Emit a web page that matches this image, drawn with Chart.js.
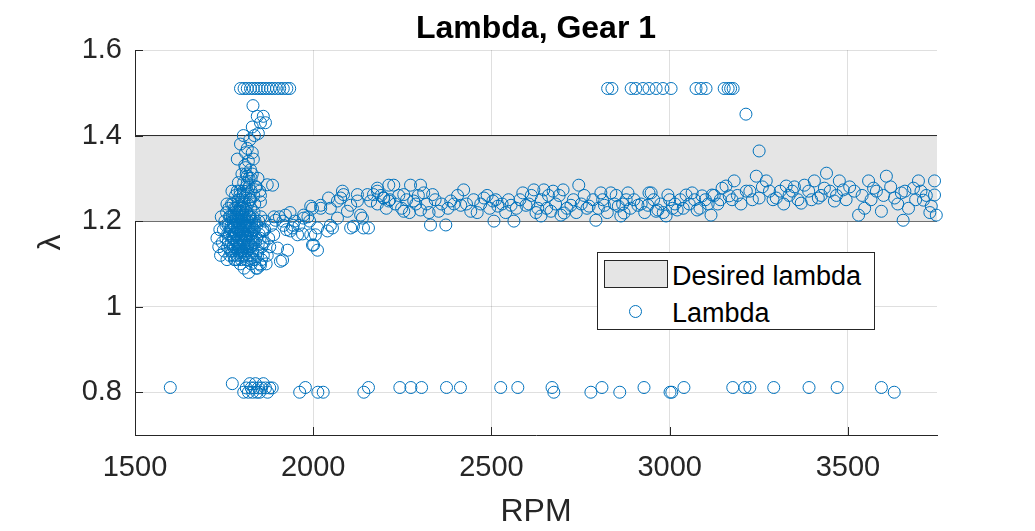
<!DOCTYPE html>
<html>
<head>
<meta charset="utf-8">
<script src="https://cdn.jsdelivr.net/npm/chart.js@4.4.1/dist/chart.umd.min.js"></script>
<style>
  html, body { margin:0; padding:0; background:#fff; }
  #wrap { position:relative; width:1035px; height:531px; }
  #legend { position:absolute; left:597px; top:252px; width:276px; height:76px; border:1px solid #262626; background:#fff;
            font-family:"Liberation Sans", Arial, sans-serif; font-size:27px; color:#000; }
  #legend .patch { position:absolute; left:6px; top:7px; width:64px; height:28px; box-sizing:border-box; background:#e5e5e5; border:1px solid #262626; }
  #legend .mark { position:absolute; left:31px; top:52px; width:13px; height:13px; box-sizing:border-box; border:1px solid #0072BD; border-radius:50%; }
  #legend .txt { position:absolute; left:74px; line-height:27px; white-space:nowrap; }
</style>
</head>
<body>
<div id="wrap">
  <canvas id="c" width="1035" height="531"></canvas>
  <div id="legend">
    <div class="patch"></div><span class="txt" style="top:10px">Desired lambda</span>
    <div class="mark"></div><span class="txt" style="top:47px">Lambda</span>
  </div>
</div>
<script>
// ---- chart text and axes ----
const titleText = 'Lambda, Gear 1';
const xLabel = 'RPM';
const yLabel = 'λ';
const xTicks = [1500, 2000, 2500, 3000, 3500];
const yTicks = [0.8, 1, 1.2, 1.4, 1.6];
const xRange = [1500, 3750];
const yRange = [0.7, 1.6];
const desiredBand = [1.2, 1.4];

// ---- Lambda samples (RPM, lambda) ----
const topRpm = [1796,1806,1815,1824,1832,1840,1848,1856,1864,1872,1880,1888,1897,1906,1916,1926,1934,
                2826,2838,2892,2905,2925,2942,2962,2981,3004,3074,3088,3102,3153,3164,3171,3178];
const topLambda = [1.51,1.51,1.51,1.51,1.51,1.51,1.51,1.51,1.51,1.51,1.51,1.51,1.51,1.51,1.51,1.51,1.51,
                   1.51,1.51,1.51,1.51,1.51,1.51,1.51,1.51,1.51,1.51,1.51,1.51,1.51,1.51,1.51,1.51];

const riseRpm = [1831,1843,1860,1829,1852,1866,1846,1804,1796,1815,1810,1829,1787,1818,1832,1810,1824,1800,1815,1829,
                 1790,1815,1871,1838,1772,1804,1852,1824,1852,1758,1820,1808,1822,1835,1812,1826];
const riseLambda = [1.47,1.445,1.445,1.42,1.43,1.43,1.405,1.40,1.38,1.37,1.36,1.36,1.345,1.34,1.345,1.325,1.32,1.31,1.305,1.31,
                    1.29,1.29,1.285,1.28,1.27,1.27,1.26,1.25,1.245,1.24,1.30,1.33,1.39,1.40,1.28,1.27];

const coreRpm = [1745,1748,1750,1752,1755,1757,1758,1760,1762,1763,1765,1766,1768,1770,1771,1772,1774,1775,1776,1778,
                 1779,1780,1781,1782,1783,1784,1785,1786,1787,1788,1789,1790,1791,1792,1793,1794,1795,1796,1797,1798,
                 1799,1800,1801,1802,1803,1804,1805,1806,1807,1808,1809,1810,1811,1812,1813,1814,1815,1816,1817,1818,
                 1819,1820,1821,1822,1823,1824,1825,1826,1827,1828,1829,1830,1832,1834,1836,1838,1840,1842,1845,1848,
                 1850,1853,1856,1860,1864,1868,1770,1775,1780,1785,1790,1795,1800,1805,1810,1815,1778,1788,1798,1808,
                 1818,1760,1765,1755,1793,1803,1730,1735,1738,1742,1740,1795,1805,1812,1820,1826,1833,1840,1815,1800,
                 1822,1836,1845,1850];
const coreLambda = [1.15,1.18,1.13,1.20,1.16,1.22,1.11,1.14,1.19,1.23,1.17,1.12,1.21,1.15,1.24,1.18,1.13,1.20,1.16,1.22,
                    1.11,1.19,1.14,1.17,1.23,1.21,1.12,1.18,1.15,1.20,1.24,1.16,1.13,1.19,1.22,1.17,1.10,1.14,1.21,1.18,
                    1.25,1.16,1.12,1.20,1.23,1.15,1.18,1.09,1.21,1.13,1.17,1.26,1.19,1.14,1.22,1.16,1.11,1.20,1.24,1.18,
                    1.08,1.15,1.21,1.12,1.19,1.17,1.23,1.10,1.14,1.20,1.16,1.13,1.18,1.22,1.11,1.15,1.09,1.19,1.13,1.17,
                    1.10,1.21,1.14,1.12,1.18,1.10,1.19,1.14,1.21,1.17,1.20,1.18,1.21,1.14,1.17,1.19,1.16,1.13,1.11,1.19,
                    1.12,1.17,1.21,1.19,1.15,1.17,1.16,1.14,1.18,1.21,1.12,1.27,1.29,1.31,1.28,1.30,1.26,1.28,1.27,1.24,
                    1.25,1.24,1.30,1.27];

const denseRpm = [1762,1767,1769,1773,1777,1779,1782,1784,1786,1787,1789,1791,1792,1794,1796,1797,1799,1801,1802,1804,
                  1806,1807,1809,1811,1812,1814,1816,1817,1819,1821,1823,1825,1827,1829,1831,1833,1835,1772,1776,1781,
                  1785,1790,1794,1799,1803,1807,1811,1816,1820,1824,1828,1832,1837,1841,1844,1847,1851,1855,1858,1862,
                  1775,1782,1790,1797,1804,1779,1787,1794];
const denseLambda = [1.15,1.18,1.13,1.21,1.12,1.17,1.20,1.15,1.22,1.11,1.18,1.21,1.14,1.12,1.19,1.16,1.13,1.22,1.17,1.19,
                     1.15,1.12,1.20,1.16,1.23,1.13,1.17,1.15,1.21,1.18,1.14,1.16,1.19,1.12,1.21,1.15,1.18,1.16,1.19,1.11,
                     1.20,1.14,1.23,1.20,1.13,1.24,1.11,1.14,1.19,1.21,1.17,1.11,1.20,1.16,1.12,1.20,1.16,1.11,1.18,1.15,
                     1.24,1.26,1.25,1.23,1.26,1.23,1.27,1.26];

const tailRpm = [1860,1889,1900,1914,1928,1871,1852,1843,1894,1917,1944,1956,1936,1973,1998,2006,1998,2012,2040,2048,
                 2048,2077,2085,2105,2124,2141,2152,2180,2197,2133,2068,2021,2096,1886,1922,1942,1908,1973,1993,2001,
                 2012,1993,2021,2043,2054,2068,2082,2105,2124,2113,2138,2155,2161,2180,2212,1905,1915,1925,1935,1948,
                 1960,1970,1985,1990,1875,1882,1878,1890,1865,1858];
const tailLambda = [1.177,1.168,1.137,1.109,1.132,1.12,1.097,1.09,1.202,1.19,1.19,1.168,1.177,1.214,1.23,1.168,1.144,1.132,1.177,1.19,
                    1.23,1.254,1.262,1.184,1.247,1.184,1.262,1.27,1.254,1.214,1.207,1.237,1.223,1.284,1.214,1.184,1.106,1.207,1.168,1.144,
                    1.184,1.235,1.23,1.254,1.184,1.247,1.27,1.237,1.262,1.188,1.207,1.184,1.247,1.277,1.284,1.21,1.20,1.18,1.22,1.20,
                    1.19,1.17,1.21,1.20,1.16,1.19,1.14,1.21,1.20,1.15];

const bandRpm = [2169,2226,2273,2301,2198,2212,2254,2282,2310,2335,2254,2301,2352,2329,2372,2422,2386,2414,2442,2479,
                 2504,2518,2555,2507,2563,2588,2619,2647,2673,2701,2745,2597,2630,2667,2704,2723,2639,2695,2807,2835,
                 2883,2942,2774,2817,2856,2872,2911,2939,2962,2793,2863,
                 2948,2967,2995,2990,3021,3046,3063,3077,3091,3116,3119,3147,3158,3181,3167,3215,3214,3251,3243,3271,
                 3251,3299,3327,3344,3369,3378,3406,3417,3434,3440,3462,3476,3487,3518,3530,3547,3558,3572,3594,3608,
                 3631,3650,3655,3670,3684,3698,3712,3734,3743,3743,3748,
                 2180,2190,2205,2215,2230,2240,2248,2262,2270,2288,2295,2318,2325,2342,2360,2378,2395,2405,2430,2450,
                 2460,2470,2488,2495,2512,2530,2540,2548,2570,2580,2605,2612,2625,2640,2655,2660,2680,2690,2712,2730,
                 2738,2752,2760,2768,2785,2800,2812,2825,2845,2850,2868,2878,2890,2900,2920,2930,2955,2975,2982,3000,
                 3008,3015,3030,3038,3055,3070,3085,3100,3108,3125,3135,3142,3175,3190,3200,3225,3232,3260,3280,3290,
                 3310,3320,3335,3350,3360,3390,3398,3425,3450,3468,3495,3505,3540,3565,3580,3600,3620,3640,3660,3690,
                 3705,3720,3730];
const bandLambda = [1.262,1.284,1.284,1.284,1.254,1.247,1.262,1.247,1.266,1.262,1.223,1.226,1.223,1.191,1.191,1.273,1.247,1.237,1.223,1.254,
                    1.247,1.235,1.237,1.20,1.20,1.266,1.273,1.273,1.270,1.273,1.284,1.237,1.23,1.223,1.219,1.237,1.212,1.214,1.266,1.266,
                    1.266,1.266,1.235,1.237,1.235,1.219,1.237,1.237,1.223,1.202,1.212,
                    1.266,1.226,1.261,1.212,1.226,1.261,1.266,1.226,1.259,1.214,1.261,1.277,1.282,1.294,1.259,1.270,1.45,1.364,1.305,1.294,
                    1.254,1.254,1.282,1.270,1.242,1.284,1.294,1.254,1.277,1.312,1.247,1.294,1.273,1.270,1.214,1.23,1.294,1.277,1.223,1.305,
                    1.254,1.266,1.202,1.23,1.277,1.294,1.249,1.235,1.294,1.261,1.214,
                    1.24,1.26,1.23,1.25,1.24,1.26,1.23,1.25,1.22,1.24,1.26,1.24,1.22,1.25,1.24,1.23,1.24,1.26,1.24,1.25,
                    1.22,1.24,1.26,1.23,1.25,1.24,1.22,1.25,1.23,1.25,1.24,1.26,1.22,1.25,1.23,1.26,1.24,1.26,1.23,1.25,
                    1.22,1.24,1.26,1.23,1.25,1.23,1.25,1.22,1.24,1.26,1.24,1.25,1.23,1.25,1.24,1.22,1.25,1.24,1.22,1.25,
                    1.23,1.24,1.25,1.23,1.24,1.25,1.23,1.25,1.24,1.26,1.24,1.25,1.25,1.26,1.24,1.27,1.25,1.28,1.27,1.25,
                    1.27,1.24,1.26,1.28,1.25,1.27,1.25,1.26,1.27,1.26,1.25,1.28,1.26,1.25,1.27,1.26,1.28,1.24,1.27,1.25,
                    1.27,1.26,1.22];

const lowRpm = [1599,1773,1805,1812,1818,1822,1826,1830,1834,1838,1842,1846,1850,1855,1860,1866,1872,1878,1885,
                1962,1978,2013,2028,2142,2155,2243,2274,2304,2374,2413,2526,2574,2670,2675,2779,2810,2860,2928,3001,3006,
                3040,3177,3211,3225,3292,3391,3470,3594,3630];
const lowLambda = [0.811,0.82,0.80,0.81,0.80,0.82,0.81,0.80,0.81,0.82,0.80,0.81,0.80,0.81,0.82,0.81,0.80,0.81,0.81,
                   0.80,0.811,0.80,0.80,0.80,0.811,0.811,0.811,0.811,0.811,0.811,0.811,0.811,0.811,0.80,0.80,0.811,0.80,0.811,0.80,0.80,
                   0.811,0.811,0.811,0.811,0.811,0.811,0.811,0.811,0.80];

// ---- build library data ----
function toPoints(rpm, lam) { return rpm.map((r, i) => ({ x: r, y: lam[i] })); }
const lambdaPoints = [].concat(
  toPoints(bandRpm, bandLambda), toPoints(tailRpm, tailLambda), toPoints(coreRpm, coreLambda),
  toPoints(denseRpm, denseLambda), toPoints(riseRpm, riseLambda), toPoints(topRpm, topLambda),
  toPoints(lowRpm, lowLambda));

const FONT = '"Liberation Sans", Arial, Helvetica, sans-serif';
const AX = '#262626';

const extras = {
  id: 'extras',
  afterDraw(chart) {
    const { ctx, chartArea: a, scales: { x, y } } = chart;
    ctx.save();
    ctx.strokeStyle = AX; ctx.lineWidth = 1;
    xTicks.forEach(v => {
      const px = Math.round(x.getPixelForValue(v)) + 0.5;
      ctx.beginPath(); ctx.moveTo(px, a.bottom); ctx.lineTo(px, a.bottom - 8); ctx.stroke();
    });
    yTicks.forEach(v => {
      const py = Math.round(y.getPixelForValue(v)) + 0.5;
      ctx.beginPath(); ctx.moveTo(a.left, py); ctx.lineTo(a.left + 8, py); ctx.stroke();
    });
    ctx.fillStyle = '#000';
    ctx.font = 'bold 32px ' + FONT;
    ctx.textAlign = 'center';
    ctx.textBaseline = 'middle';
    ctx.fillText(titleText, (a.left + a.right) / 2, 29);
    ctx.restore();
  }
};

new Chart(document.getElementById('c'), {
  type: 'scatter',
  data: {
    datasets: [
      { label: 'lower', type: 'line', order: 2,
        data: [{ x: xRange[0], y: desiredBand[0] }, { x: xRange[1], y: desiredBand[0] }],
        borderColor: AX, borderWidth: 1, pointRadius: 0, fill: false },
      { label: 'Desired lambda', type: 'line', order: 1,
        data: [{ x: xRange[0], y: desiredBand[1] }, { x: xRange[1], y: desiredBand[1] }],
        borderColor: AX, borderWidth: 1, pointRadius: 0, backgroundColor: '#e5e5e5', fill: 0 },
      { label: 'Lambda', order: 0, data: lambdaPoints,
        pointStyle: 'circle', pointRadius: 6, pointHoverRadius: 6,
        borderColor: '#0072BD', backgroundColor: 'rgba(0,0,0,0)', borderWidth: 1, clip: false }
    ]
  },
  options: {
    responsive: false, animation: false, devicePixelRatio: 1,
    layout: { padding: { left: 0, right: 98, top: 50, bottom: 0 } },
    plugins: { legend: { display: false }, tooltip: { enabled: false } },
    scales: {
      x: {
        type: 'linear', min: xRange[0], max: xRange[1],
        afterBuildTicks: s => { s.ticks = xTicks.map(v => ({ value: v })); },
        afterFit: s => { s.height = 96; },
        grid: { color: 'rgba(38,38,38,0.15)', drawTicks: false },
        border: { color: AX, width: 1 },
        ticks: { padding: 16, color: AX, maxRotation: 0, font: { family: FONT, size: 29 }, callback: v => String(v) },
        title: { display: true, text: xLabel, color: AX, font: { family: FONT, size: 32 }, padding: { top: 0, bottom: 0 } }
      },
      y: {
        type: 'linear', min: yRange[0], max: yRange[1],
        afterBuildTicks: s => { s.ticks = yTicks.map(v => ({ value: v })); },
        afterFit: s => { s.width = 135; },
        grid: { color: 'rgba(38,38,38,0.15)', drawTicks: false },
        border: { color: AX, width: 1 },
        ticks: { padding: 13, color: AX, font: { family: FONT, size: 29 }, callback: v => String(v) },
        title: { display: true, text: yLabel, color: AX, font: { family: FONT, size: 32 }, padding: { top: 32, bottom: 0 } }
      }
    }
  },
  plugins: [extras]
});
</script>
</body>
</html>
